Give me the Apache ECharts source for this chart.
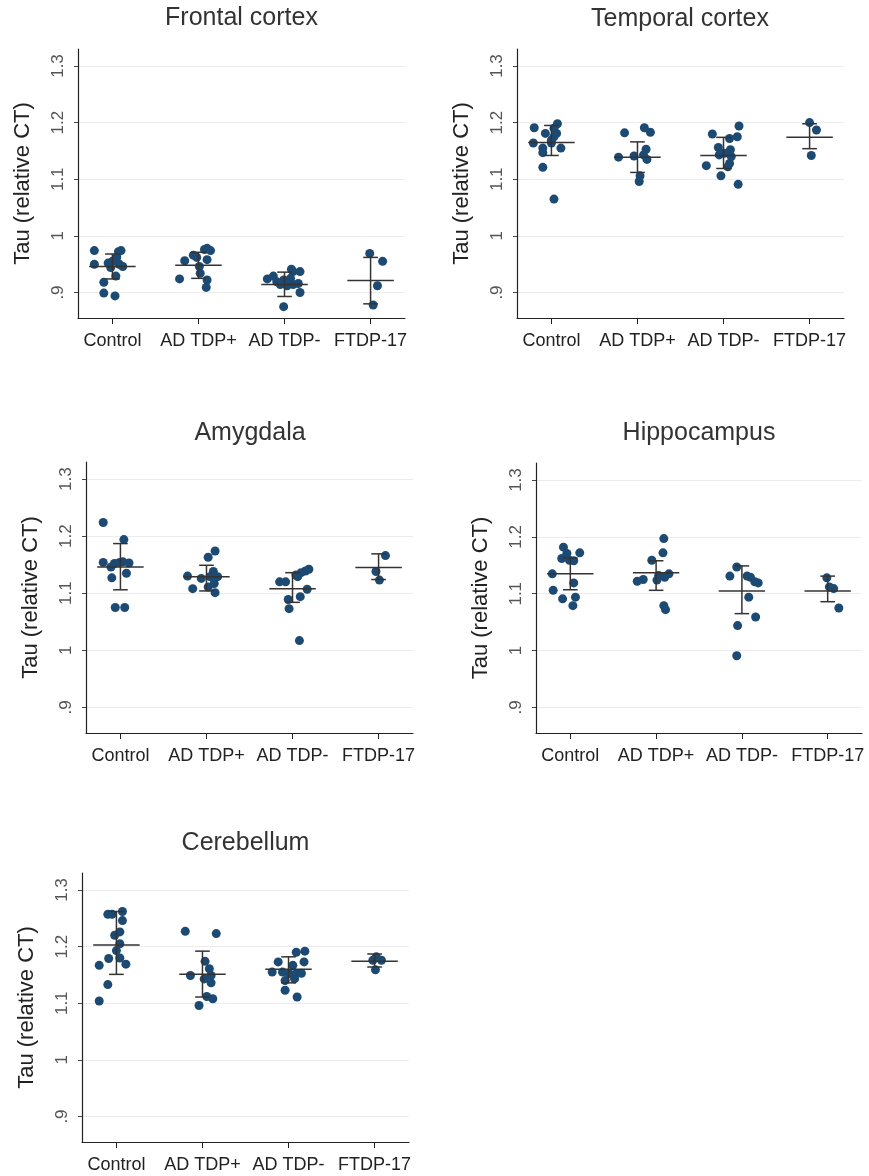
<!DOCTYPE html>
<html>
<head>
<meta charset="utf-8">
<script src="https://cdn.jsdelivr.net/npm/echarts@6/dist/echarts.min.js"></script>
<style>
  html, body { margin: 0; padding: 0; background: #fff; }
  #main { width: 869px; height: 1176px; }
</style>
</head>
<body>
<div id="main"></div>
<script>
  const groups = ['Control', 'AD TDP+', 'AD TDP-', 'FTDP-17']
  const yTicks = [0.9, 1, 1.1, 1.2, 1.3]
  const regions = ['Frontal cortex', 'Temporal cortex', 'Amygdala', 'Hippocampus', 'Cerebellum']

  // Frontal cortex
  const frontalVals = [
    [0.974, 0.950, 0.918, 0.899, 0.894, 0.929, 0.952, 0.955, 0.972, 0.974, 0.962, 0.950, 0.946, 0.944],
    [0.924, 0.956, 0.966, 0.976, 0.978, 0.974, 0.958, 0.946, 0.934, 0.922, 0.909, 0.962],
    [0.924, 0.929, 0.922, 0.941, 0.937, 0.937, 0.875, 0.900, 0.912, 0.914, 0.916, 0.914, 0.925, 0.919],
    [0.969, 0.955, 0.912, 0.878]
  ]
  const frontalJitter = [
    [-0.21, -0.21, -0.10, -0.10, 0.03, 0.04, -0.05, 0.00, 0.07, 0.10, 0.05, 0.08, 0.12, -0.02],
    [-0.22, -0.16, -0.06, 0.07, 0.10, 0.14, 0.10, 0.01, 0.02, 0.10, 0.09, -0.02],
    [-0.20, -0.13, -0.01, 0.08, 0.10, 0.18, -0.01, 0.18, 0.03, 0.10, 0.16, -0.05, 0.07, -0.09],
    [-0.01, 0.14, 0.08, 0.03]
  ]
  const frontalMean = [0.946, 0.948, 0.914, 0.921]
  const frontalLow = [0.924, 0.925, 0.893, 0.880]
  const frontalHigh = [0.968, 0.971, 0.936, 0.962]

  // Temporal cortex
  const temporalVals = [
    [1.191, 1.164, 1.155, 1.147, 1.121, 1.065, 1.181, 1.169, 1.190, 1.198, 1.181, 1.164, 1.155, 1.175],
    [1.139, 1.182, 1.141, 1.106, 1.096, 1.191, 1.183, 1.153, 1.135, 1.143],
    [1.124, 1.180, 1.106, 1.156, 1.143, 1.172, 1.152, 1.140, 1.128, 1.122, 1.175, 1.194, 1.091, 1.146],
    [1.200, 1.187, 1.142]
  ]
  const temporalJitter = [
    [-0.20, -0.21, -0.10, -0.10, -0.10, 0.03, -0.07, 0.00, 0.03, 0.07, 0.06, 0.00, 0.11, 0.03],
    [-0.22, -0.15, -0.04, 0.03, 0.02, 0.08, 0.15, 0.10, 0.11, 0.07],
    [-0.20, -0.13, -0.03, -0.06, -0.05, 0.07, 0.08, 0.09, 0.07, 0.05, 0.16, 0.18, 0.17, 0.01],
    [0.00, 0.08, 0.02]
  ]
  const temporalMean = [1.165, 1.139, 1.142, 1.174]
  const temporalLow = [1.142, 1.112, 1.119, 1.154]
  const temporalHigh = [1.195, 1.166, 1.174, 1.198]

  // Amygdala
  const amygdalaVals = [
    [1.224, 1.154, 1.127, 1.075, 1.075, 1.194, 1.135, 1.152, 1.154, 1.155, 1.153, 1.146],
    [1.130, 1.108, 1.126, 1.163, 1.174, 1.138, 1.117, 1.111, 1.101, 1.129, 1.129],
    [1.120, 1.120, 1.089, 1.073, 1.017, 1.094, 1.107, 1.132, 1.136, 1.139, 1.142, 1.129],
    [1.166, 1.138, 1.123]
  ]
  const amygdalaJitter = [
    [-0.20, -0.20, -0.10, -0.06, 0.05, 0.04, 0.07, -0.07, -0.01, 0.03, 0.10, -0.11],
    [-0.22, -0.16, -0.06, 0.02, 0.10, 0.08, 0.09, 0.02, 0.10, 0.04, 0.13],
    [-0.15, -0.08, -0.05, -0.04, 0.08, 0.09, 0.17, 0.04, 0.10, 0.15, 0.19, 0.06],
    [0.08, -0.03, 0.01]
  ]
  const amygdalaMean = [1.146, 1.129, 1.108, 1.145]
  const amygdalaLow = [1.106, 1.104, 1.084, 1.124]
  const amygdalaHigh = [1.187, 1.149, 1.136, 1.169]

  // Hippocampus
  const hippoVals = [
    [1.135, 1.106, 1.091, 1.182, 1.162, 1.171, 1.159, 1.158, 1.172, 1.119, 1.094, 1.079],
    [1.122, 1.125, 1.159, 1.124, 1.197, 1.172, 1.135, 1.129, 1.079, 1.072, 1.132],
    [1.131, 1.147, 1.044, 0.991, 1.131, 1.129, 1.094, 1.121, 1.119, 1.059],
    [1.128, 1.112, 1.109, 1.075]
  ]
  const hippoJitter = [
    [-0.21, -0.20, -0.09, -0.08, -0.10, -0.04, -0.01, 0.04, 0.11, 0.04, 0.06, 0.03],
    [-0.22, -0.15, -0.05, 0.01, 0.09, 0.08, 0.15, 0.10, 0.09, 0.11, 0.03],
    [-0.14, -0.06, -0.05, -0.06, 0.06, 0.10, 0.08, 0.15, 0.19, 0.16],
    [-0.01, 0.02, 0.07, 0.13]
  ]
  const hippoMean = [1.135, 1.137, 1.105, 1.105]
  const hippoLow = [1.107, 1.106, 1.065, 1.086]
  const hippoHigh = [1.163, 1.158, 1.149, 1.131]

  // Cerebellum
  const cerebVals = [
    [1.104, 1.167, 1.133, 1.179, 1.257, 1.257, 1.262, 1.246, 1.226, 1.220, 1.205, 1.180, 1.169, 1.193],
    [1.227, 1.223, 1.149, 1.096, 1.174, 1.143, 1.161, 1.136, 1.108, 1.112, 1.149],
    [1.155, 1.173, 1.140, 1.123, 1.190, 1.192, 1.173, 1.111, 1.167, 1.152, 1.152, 1.153, 1.143, 1.155],
    [1.182, 1.176, 1.159, 1.176]
  ]
  const cerebJitter = [
    [-0.20, -0.20, -0.10, -0.09, -0.10, -0.05, 0.07, 0.07, 0.04, -0.02, 0.04, 0.04, 0.11, 0.00],
    [-0.20, 0.16, -0.14, -0.04, 0.03, 0.02, 0.08, 0.10, 0.12, 0.05, 0.10],
    [-0.19, -0.12, -0.04, -0.04, 0.09, 0.19, 0.18, 0.10, 0.05, 0.01, 0.09, 0.15, 0.07, -0.07],
    [0.02, 0.08, 0.01, -0.02]
  ]
  const cerebMean = [1.203, 1.151, 1.160, 1.174]
  const cerebLow = [1.151, 1.111, 1.136, 1.164]
  const cerebHigh = [1.262, 1.192, 1.182, 1.187]

  const panelData = [
    [frontalVals, frontalJitter, frontalMean, frontalLow, frontalHigh],
    [temporalVals, temporalJitter, temporalMean, temporalLow, temporalHigh],
    [amygdalaVals, amygdalaJitter, amygdalaMean, amygdalaLow, amygdalaHigh],
    [hippoVals, hippoJitter, hippoMean, hippoLow, hippoHigh],
    [cerebVals, cerebJitter, cerebMean, cerebLow, cerebHigh]
  ]

  // 每个小图的位置 (像素)
  const layout = [
    { left: 78, top: 49, width: 327, height: 269, tx: 241.5, ty: 18 },
    { left: 517, top: 49, width: 327, height: 269, tx: 680, ty: 19 },
    { left: 86, top: 462, width: 327, height: 271, tx: 250, ty: 433 },
    { left: 536, top: 463, width: 326, height: 270, tx: 699, ty: 433 },
    { left: 82, top: 873, width: 327, height: 269, tx: 245.5, ty: 843 }
  ]

  const chart = echarts.init(document.getElementById('main'))
  const font = 'Liberation Sans, Arial, sans-serif'
  const grids = []
  const xAxes = []
  const yAxes = []
  const series = []
  const graphics = []

  layout.forEach((p, i) => {
    grids.push({ left: p.left, top: p.top, width: p.width, height: p.height })
    xAxes.push({
      gridIndex: i,
      type: 'value',
      min: 0.6,
      max: 4.4,
      axisLine: { show: true, lineStyle: { color: '#222', width: 1.2 } },
      axisTick: { show: true, length: 6, customValues: [1, 2, 3, 4], lineStyle: { color: '#222' } },
      axisLabel: {
        customValues: [1, 2, 3, 4],
        formatter: v => groups[Math.round(v) - 1],
        fontSize: 18,
        color: '#222',
        fontFamily: font,
        margin: 14
      },
      splitLine: { show: false }
    })
    yAxes.push({
      gridIndex: i,
      type: 'value',
      min: 0.855,
      max: 1.33,
      name: 'Tau (relative CT)',
      nameLocation: 'middle',
      nameGap: 44,
      nameTextStyle: { fontSize: 22, color: '#222', fontFamily: font },
      axisLine: { show: true, lineStyle: { color: '#222', width: 1.2 } },
      axisTick: { show: true, length: 4, customValues: yTicks, lineStyle: { color: '#444' } },
      axisLabel: {
        customValues: yTicks,
        rotate: 90,
        formatter: v => (v < 1 ? String(v).replace(/^0/, '') : String(v)),
        fontSize: 17,
        color: '#555',
        fontFamily: font,
        margin: 11
      },
      splitLine: { show: true, lineStyle: { color: '#ececec', width: 1 } }
    })
    const [vals, jit, mean, low, high] = panelData[i]
    const pts = []
    vals.forEach((arr, g) => {
      arr.forEach((v, k) => pts.push([g + 1 + jit[g][k], v]))
    })
    series.push({
      type: 'scatter',
      xAxisIndex: i,
      yAxisIndex: i,
      symbolSize: 9,
      itemStyle: { color: '#1d4a73', opacity: 1 },
      data: pts,
      z: 2
    })
    series.push({
      type: 'custom',
      xAxisIndex: i,
      yAxisIndex: i,
      z: 3,
      data: mean.map((m, g) => [g + 1, m, low[g], high[g]]),
      renderItem: (params, api) => {
        const x = api.value(0)
        const m = api.value(1)
        const lo = api.value(2)
        const hi = api.value(3)
        const a = api.coord([x - 0.27, m])
        const b = api.coord([x + 0.27, m])
        const top = api.coord([x, hi])
        const bot = api.coord([x, lo])
        const capL = api.coord([x - 0.085, hi])
        const capR = api.coord([x + 0.085, hi])
        const capL2 = api.coord([x - 0.085, lo])
        const capR2 = api.coord([x + 0.085, lo])
        const style = { stroke: '#333', lineWidth: 1.5 }
        return {
          type: 'group',
          children: [
            { type: 'line', shape: { x1: a[0], y1: a[1], x2: b[0], y2: b[1] }, style },
            { type: 'line', shape: { x1: top[0], y1: top[1], x2: bot[0], y2: bot[1] }, style },
            { type: 'line', shape: { x1: capL[0], y1: capL[1], x2: capR[0], y2: capR[1] }, style },
            { type: 'line', shape: { x1: capL2[0], y1: capL2[1], x2: capR2[0], y2: capR2[1] }, style }
          ]
        }
      }
    })
    graphics.push({
      type: 'text',
      x: p.tx,
      y: p.ty,
      style: {
        text: regions[i],
        fontSize: 25,
        fill: '#333',
        fontFamily: font,
        align: 'center',
        verticalAlign: 'middle'
      }
    })
  })

  chart.setOption({
    backgroundColor: '#fff',
    animation: false,
    grid: grids,
    xAxis: xAxes,
    yAxis: yAxes,
    series: series,
    graphic: graphics
  })
</script>
</body>
</html>
